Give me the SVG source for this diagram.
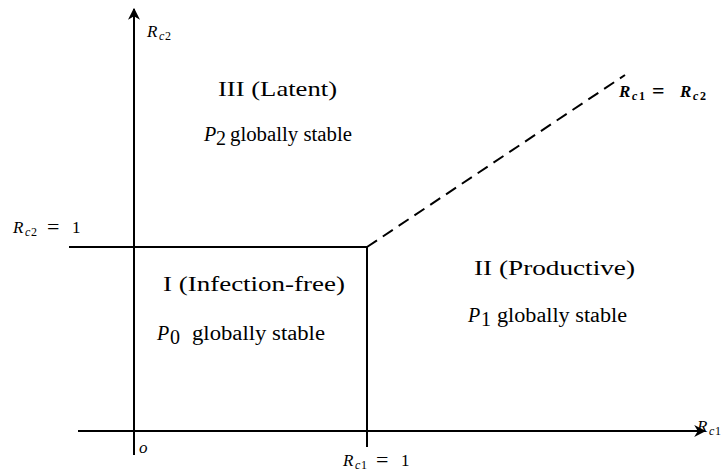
<svg xmlns="http://www.w3.org/2000/svg" width="724" height="475" viewBox="0 0 724 475">
<style>
.ax{stroke:#000;stroke-width:2;fill:none}
.big{font-family:"Liberation Serif",serif;font-size:22px;fill:#000}
.mid{font-family:"Liberation Serif",serif;font-size:20px;fill:#000}
.mi{font-style:italic}
.sm{font-family:"Liberation Serif",serif;font-size:17px;fill:#000}
.sub{font-size:12px}
.eq{font-size:22px}
</style>
<defs>
<marker id="ah" viewBox="0 0 10 10" refX="9" refY="5" markerWidth="12" markerHeight="12" markerUnits="userSpaceOnUse" orient="auto">
<path d="M0,0 L10,5 L0,10 L3,5 Z" fill="#000"/>
</marker>
</defs>
<g id="connectors">
<line class="ax" x1="134" y1="455" x2="134" y2="9" marker-end="url(#ah)"/>
<line class="ax" x1="78" y1="431" x2="705" y2="431" marker-end="url(#ah)"/>
<line class="ax" x1="69" y1="247" x2="367" y2="247"/>
<line class="ax" x1="367" y1="247" x2="367" y2="447"/>
<line class="ax" x1="367" y1="247" x2="625" y2="75" stroke-dasharray="12,7"/>
</g>
<g id="labels">
<text class="sm" y="37"><tspan class="mi" x="147">R</tspan><tspan class="sub mi" x="159" dy="3">c</tspan><tspan class="sub" x="165">2</tspan></text>
<text class="sm" y="233"><tspan class="mi" x="13">R</tspan><tspan class="sub mi" x="25" dy="3">c</tspan><tspan class="sub" x="31">2</tspan><tspan class="eq" x="47" dy="-2">=</tspan><tspan x="72" dy="-1">1</tspan></text>
<text class="sm mi" x="139" y="453" font-size="15">o</text>
<text class="sm" y="466"><tspan class="mi" x="343">R</tspan><tspan class="sub mi" x="355" dy="3">c</tspan><tspan class="sub" x="361">1</tspan><tspan class="eq" x="376" dy="-2">=</tspan><tspan x="401" dy="-1">1</tspan></text>
<text class="sm" y="432"><tspan class="mi" x="697">R</tspan><tspan class="sub mi" x="709" dy="3">c</tspan><tspan class="sub" x="715">1</tspan></text>
<text class="sm" y="97" font-weight="bold"><tspan class="mi" x="619">R</tspan><tspan class="sub mi" x="632" dy="3">c</tspan><tspan class="sub" x="639">1</tspan><tspan class="eq" x="652" dy="-2">=</tspan><tspan class="mi" x="680" dy="-1">R</tspan><tspan class="sub mi" x="693" dy="3">c</tspan><tspan class="sub" x="700">2</tspan></text>
</g>
<g id="region3">
<text class="big" x="218" y="96" textLength="119" lengthAdjust="spacingAndGlyphs">III (Latent)</text>
<text class="mid mi" x="204" y="141">P</text><text class="mid" x="216" y="145" font-size="14">2</text>
<text class="mid" x="230" y="141" textLength="122" lengthAdjust="spacingAndGlyphs">globally  stable</text>
</g>
<g id="region1">
<text class="big" x="163" y="291" textLength="182" lengthAdjust="spacingAndGlyphs">I (Infection-free)</text>
<text class="mid mi" x="157" y="340">P</text><text class="mid" x="170" y="344" font-size="14">0</text>
<text class="mid" x="192" y="340" textLength="133" lengthAdjust="spacingAndGlyphs">globally stable</text>
</g>
<g id="region2">
<text class="big" x="474" y="275" textLength="161" lengthAdjust="spacingAndGlyphs">II (Productive)</text>
<text class="mid mi" x="468" y="322">P</text><text class="mid" x="481" y="326" font-size="14">1</text>
<text class="mid" x="497" y="322" textLength="130" lengthAdjust="spacingAndGlyphs">globally stable</text>
</g>
</svg>
